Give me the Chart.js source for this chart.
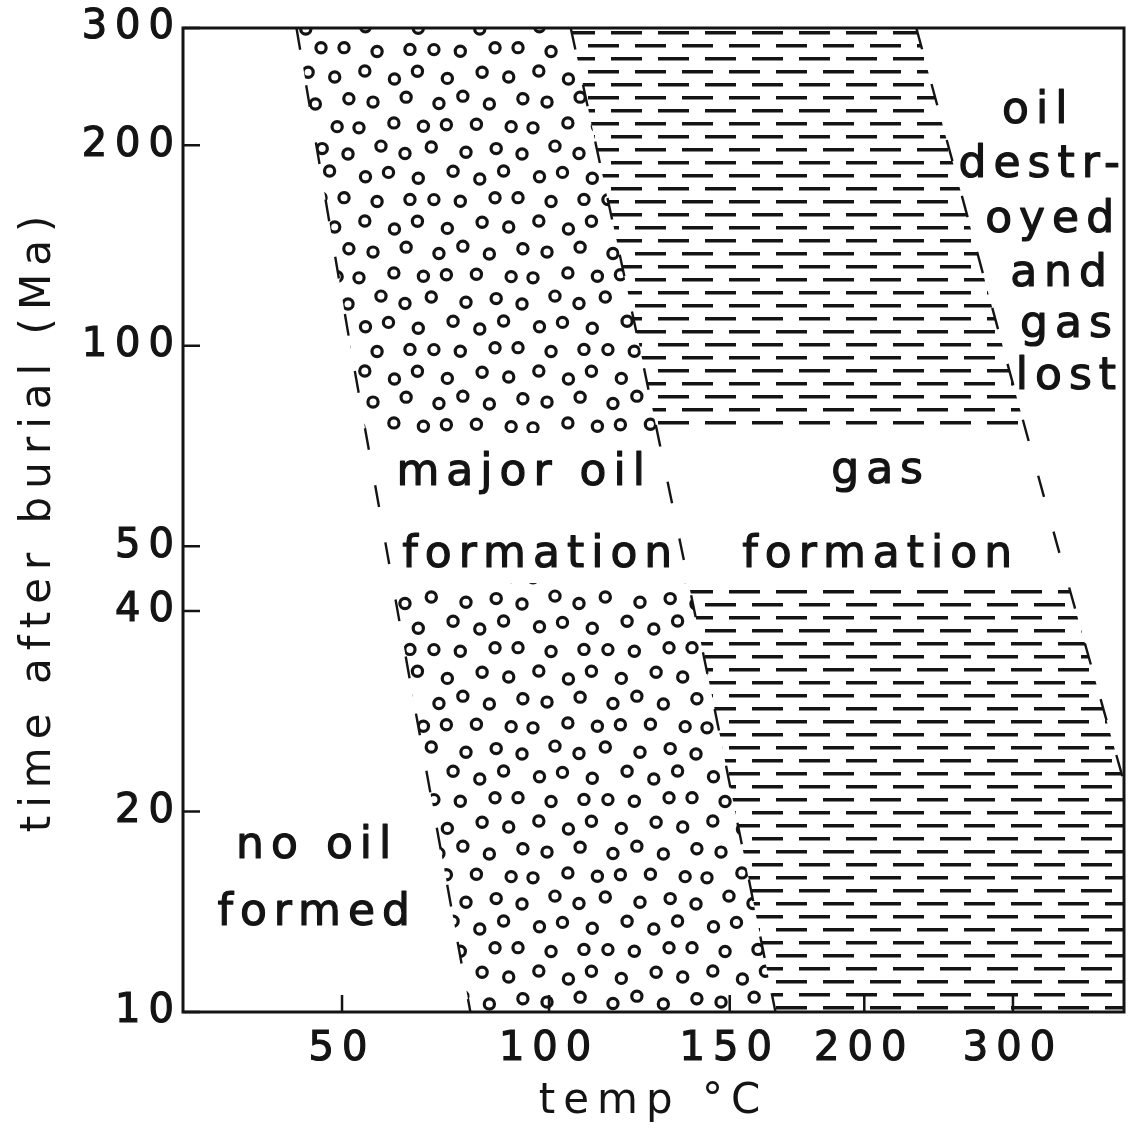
<!DOCTYPE html>
<html>
<head>
<meta charset="utf-8">
<title>Oil and gas windows</title>
<script src="https://cdn.jsdelivr.net/npm/chart.js@4.4.1/dist/chart.umd.min.js"></script>
<style>
  html, body { margin: 0; padding: 0; background: #fff; }
  canvas { display: block; }
</style>
</head>
<body>
<canvas id="chart-windows" width="1129" height="1135"></canvas>
<script>
// time after burial (Ma) on a log axis, temperature on the figure's own stretched axis
var ageTicks = [10, 20, 40, 50, 100, 200, 300];
var tempTicks = [50, 100, 150, 200, 300];

// boundaries: temperature (°C) reached at a given age (Ma)
var oilStartAge = [300, 100, 30, 10];
var oilStartTemp = [39, 52, 67, 81];
var gasStartAge = [300, 100, 30, 10];
var gasStartTemp = [106, 125, 145, 167];
var gasEndAge = [300, 100, 50, 22];
var gasEndTemp = [235, 293, 330, 375];

// ages between which both windows are left blank for the labels
var labelBandAge = [74, 44];

// labels written inside the plot, anchored at (temp, age)
var noteText = ["major oil", "formation", "gas", "formation", "no oil", "formed",
                "oil", "destr-", "oyed", "and", "gas", "lost"];
var noteTemp = [94, 98, 211, 211, 44, 44, 317, 320, 327, 333, 338, 338];
var noteAge = [61.8, 46.6, 62.2, 46.6, 17.0, 13.5, 216, 179, 148, 123, 103, 86];

// where each temperature tick sits along the x axis, in % of its width (axis is not linear)
var tempTickSpot = [16.9, 38.9, 58.1, 72.4, 88.2];
var AXIS_MAX = 100;
var INK = "#141414";
var FONT = "'DejaVu Sans', 'Noto Sans', sans-serif";

function tempToAxis(t) {
  var i = 0;
  while (i < tempTicks.length - 2 && t > tempTicks[i + 1]) i++;
  var f = (t - tempTicks[i]) / (tempTicks[i + 1] - tempTicks[i]);
  return tempTickSpot[i] + f * (tempTickSpot[i + 1] - tempTickSpot[i]);
}

function boundary(temps, ages) {
  return temps.map(function (t, i) { return { x: tempToAxis(t), y: ages[i] }; });
}

var canvas = document.getElementById("chart-windows");
var ctx = canvas.getContext("2d");

// open rings, loosely scattered like the stipple of the original
function ringFill() {
  var w = 174, h = 150, tile = document.createElement("canvas");
  tile.width = w; tile.height = h;
  var g = tile.getContext("2d");
  g.strokeStyle = INK;
  g.lineWidth = 3.2;
  for (var r = 0; r < 6; r++) {
    for (var k = 0; k < 6; k++) {
      var cx = k * 29 + (r % 2) * 14.5 + 4 * Math.sin(r * 2.3 + k * 1.7);
      var cy = r * 25 + 4 * Math.cos(r * 1.1 + k * 2.9);
      for (var dx = -w; dx <= w; dx += w) {
        for (var dy = -h; dy <= h; dy += h) {
          g.beginPath();
          g.arc(cx + dx, cy + dy, 5.1, 0, 2 * Math.PI);
          g.stroke();
        }
      }
    }
  }
  return ctx.createPattern(tile, "repeat");
}

// staggered short dashes
function dashFill() {
  var w = 47, h = 26, tile = document.createElement("canvas");
  tile.width = w; tile.height = h;
  var g = tile.getContext("2d");
  g.fillStyle = INK;
  g.fillRect(0, 5, 31, 3.5);
  g.fillRect(24, 18, 31, 3.5);
  g.fillRect(24 - w, 18, 31, 3.5);
  return ctx.createPattern(tile, "repeat");
}

var spacing = {
  id: "spacing",
  beforeDraw: function (chart) { chart.ctx.letterSpacing = "8px"; }
};

var notes = {
  id: "notes",
  afterDatasetsDraw: function (chart) {
    var c = chart.ctx, xs = chart.scales.x, ys = chart.scales.y;
    c.save();
    c.font = "44px " + FONT;
    c.fillStyle = INK;
    c.strokeStyle = INK;
    c.lineWidth = 1.2;
    c.lineJoin = "round";
    c.textAlign = "center";
    c.textBaseline = "alphabetic";
    c.letterSpacing = "7px";
    noteText.forEach(function (s, i) {
      var px = xs.getPixelForValue(tempToAxis(noteTemp[i]));
      var py = ys.getPixelForValue(noteAge[i]);
      c.fillText(s, px, py);
      c.strokeText(s, px, py);
    });
    c.restore();
  }
};

// box round the plot with ticks pointing inwards
var frame = {
  id: "frame",
  afterDraw: function (chart) {
    var c = chart.ctx, a = chart.chartArea, xs = chart.scales.x, ys = chart.scales.y;
    c.save();
    c.strokeStyle = INK;
    c.lineWidth = 2.5;
    c.beginPath();
    xs.ticks.forEach(function (t) {
      var px = xs.getPixelForValue(t.value);
      c.moveTo(px, a.bottom);
      c.lineTo(px, a.bottom - 17);
    });
    ys.ticks.forEach(function (t) {
      var py = ys.getPixelForValue(t.value);
      c.moveTo(a.left, py);
      c.lineTo(a.left + 17, py);
    });
    c.stroke();
    c.lineWidth = 3;
    c.strokeRect(a.left, a.top, a.right - a.left, a.bottom - a.top);
    c.restore();
  }
};

var dash = { borderColor: INK, borderWidth: 2.4, borderDash: [22, 36], fill: false, order: 1 };

new Chart(ctx, {
  type: "line",
  data: {
    datasets: [
      { label: "oil window start", data: boundary(oilStartTemp, oilStartAge), borderWidth: 0, fill: false, order: 3 },
      { label: "major oil formation", data: boundary(gasStartTemp, gasStartAge), borderWidth: 0,
        fill: "-1", backgroundColor: ringFill(), order: 3 },
      { label: "gas formation", data: boundary(gasEndTemp, gasEndAge).concat([{ x: AXIS_MAX, y: ageTicks[0] }]),
        borderWidth: 0, fill: "-1", backgroundColor: dashFill(), order: 3 },
      { label: "band edge", data: [{ x: 0, y: labelBandAge[0] }, { x: 0, y: labelBandAge[1] }], borderWidth: 0, fill: false, order: 2 },
      { label: "label band", data: [{ x: AXIS_MAX, y: labelBandAge[0] }, { x: AXIS_MAX, y: labelBandAge[1] }],
        borderWidth: 0, fill: "-1", backgroundColor: "#ffffff", order: 2 },
      Object.assign({ label: "oil limit", data: boundary(oilStartTemp, oilStartAge) }, dash),
      Object.assign({ label: "oil/gas limit", data: boundary(gasStartTemp, gasStartAge) }, dash),
      Object.assign({ label: "gas limit", data: boundary(gasEndTemp, gasEndAge) }, dash)
    ]
  },
  options: {
    indexAxis: "y",
    responsive: false,
    animation: false,
    events: [],
    layout: { padding: { top: 28, right: 5, bottom: 0, left: 0 } },
    elements: { point: { radius: 0 }, line: { tension: 0 } },
    plugins: { legend: { display: false }, tooltip: { enabled: false } },
    scales: {
      x: {
        type: "linear",
        min: 0,
        max: AXIS_MAX,
        afterBuildTicks: function (s) { s.ticks = tempTickSpot.map(function (v) { return { value: v }; }); },
        afterFit: function (s) { s.height = 123; },
        grid: { display: false, drawTicks: false },
        border: { display: false },
        ticks: {
          autoSkip: false,
          maxRotation: 0,
          padding: 14,
          color: INK,
          textStrokeColor: INK,
          textStrokeWidth: 1.2,
          font: { family: FONT, size: 40 },
          callback: function (v, i) { return String(tempTicks[i]); }
        },
        title: {
          display: true,
          text: "temp °C",
          color: INK,
          font: { family: FONT, size: 42 },
          padding: { top: 0, bottom: 8 }
        }
      },
      y: {
        type: "logarithmic",
        min: 10,
        max: 300,
        afterBuildTicks: function (s) { s.ticks = ageTicks.map(function (v) { return { value: v }; }); },
        afterFit: function (s) { s.width = 183; },
        grid: { display: false, drawTicks: false },
        border: { display: false },
        ticks: {
          autoSkip: false,
          padding: 1,
          color: INK,
          textStrokeColor: INK,
          textStrokeWidth: 1.2,
          font: { family: FONT, size: 40 },
          callback: function (v) { return String(v); }
        },
        title: {
          display: true,
          text: "time after burial (Ma)",
          color: INK,
          font: { family: FONT, size: 42 },
          padding: { top: 14, bottom: 0 }
        }
      }
    }
  },
  plugins: [spacing, notes, frame]
});
</script>
</body>
</html>
